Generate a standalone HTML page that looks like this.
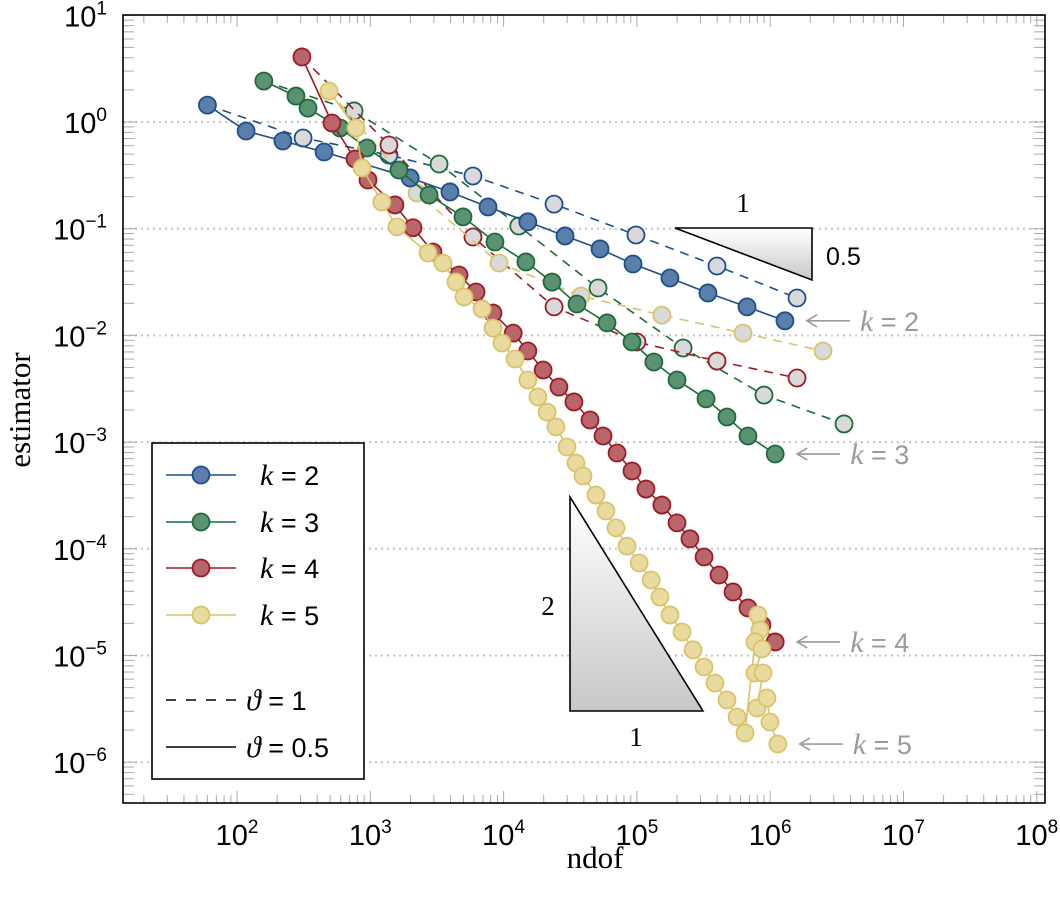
<!DOCTYPE html>
<html><head><meta charset="utf-8">
<style>
body{margin:0;background:#fff;}
svg{display:block;font-family:"Liberation Serif","DejaVu Serif",serif;}
.sans{font-family:"Liberation Sans","DejaVu Sans",sans-serif;}
</style></head>
<body>
<svg id="chart" width="1060" height="898" viewBox="0 0 1060 898" xmlns="http://www.w3.org/2000/svg">
<defs>
<linearGradient id="tg" x1="0" y1="0" x2="0" y2="1"><stop offset="0" stop-color="#ffffff"/><stop offset="1" stop-color="#c8c8c8"/></linearGradient>
</defs>
<g id="grid"></g>
<g id="ticks"></g>
<g id="series"></g>
<rect x="123" y="15" width="922" height="788" fill="none" stroke="#000" stroke-width="1.6"/>
<g id="labels" font-size="29" class="sans"></g>
<text x="595" y="868" font-size="31" text-anchor="middle">ndof</text>
<text transform="translate(30,410) rotate(-90)" font-size="31" text-anchor="middle">estimator</text>
<g>
<polygon points="675,228 812,228 812,280" fill="url(#tg)" stroke="#000" stroke-width="1.6"/>
<text x="743" y="212" font-size="27" text-anchor="middle">1</text>
<text x="826" y="265" font-size="25" class="sans">0.5</text>
</g>
<g>
<polygon points="570,497 570,711 703,711" fill="url(#tg)" stroke="#000" stroke-width="1.6"/>
<text x="548" y="615" font-size="27" text-anchor="middle">2</text>
<text x="636" y="746" font-size="27" text-anchor="middle">1</text>
</g>
<g id="annot" fill="#9a9a9a" font-size="27" class="sans"></g>
<g>
<rect x="152" y="443" width="212" height="336" fill="#fff" stroke="#000" stroke-width="1.6"/>
<g id="legend-items" class="sans"></g>
</g>
</svg>
<script>
const ns="http://www.w3.org/2000/svg";
// ---- data ----
const k2SolidNdof=[60,117,221,450,1990,3960,7640,15200,28900,52900,93500,177000,341000,670000,1290000];
const k2SolidEst=[1.44,0.823,0.664,0.523,0.299,0.221,0.160,0.116,0.0855,0.0646,0.0467,0.0345,0.0250,0.0185,0.0137];
const k2DashNdof=[60,313,1380,5890,23900,98400,399000,1590000];
const k2DashEst=[1.44,0.708,0.491,0.312,0.170,0.0873,0.0447,0.0224];
const k3SolidNdof=[159,277,341,593,944,1640,2760,4960,8610,14700,23100,35500,59700,91900,134000,200000,330000,474000,681000,1090000];
const k3SolidEst=[2.42,1.75,1.35,0.878,0.571,0.355,0.207,0.129,0.0750,0.0488,0.0316,0.0197,0.0131,0.00867,0.00563,0.00382,0.00254,0.00172,0.00114,0.000773];
const k3DashNdof=[159,755,3280,13000,51100,222000,898000,3580000];
const k3DashEst=[2.42,1.27,0.404,0.106,0.0278,0.00762,0.00276,0.00148];
const k4SolidNdof=[307,516,768,961,1530,2090,2950,4630,6210,8320,11800,15200,19800,26000,33700,44500,55700,71000,91900,117000,154000,200000,250000,319000,413000,526000,681000,867000,1090000];
const k4SolidEst=[4.07,0.978,0.450,0.286,0.167,0.102,0.0605,0.0368,0.0255,0.0162,0.0105,0.00714,0.00474,0.00328,0.00238,0.00161,0.00114,0.000790,0.000536,0.000363,0.000257,0.000175,0.000124,8.38e-5,5.68e-5,3.94e-5,2.79e-5,1.93e-5,1.34e-5];
const k4DashNdof=[307,1380,5890,23900,100000,399000,1590000];
const k4DashEst=[4.07,0.609,0.0836,0.0185,0.00867,0.00575,0.00399];
const k5SolidNdof=[490,781,867,1220,1585,2710,3510,4390,5050,6890,8320,9720,12200,15200,18100,21200,24700,29900,34900,39400,49300,58600,69700,84300,104000,128000,149000,177000,218000,264000,319000,385000,474000,564000,647000,809000,838000,769000,867000,769000,883000,796000,946000,996000,1140000];
const k5SolidEst=[1.95,0.878,0.371,0.178,0.104,0.0592,0.0477,0.0316,0.0229,0.0177,0.0117,0.00849,0.00601,0.00382,0.00265,0.00191,0.00139,0.000900,0.000637,0.000481,0.000319,0.000226,0.000157,0.000106,7.36e-5,5.10e-5,3.53e-5,2.40e-5,1.66e-5,1.13e-5,7.80e-6,5.52e-6,3.83e-6,2.65e-6,1.88e-6,2.40e-5,1.73e-5,1.34e-5,1.15e-5,6.86e-6,6.86e-6,3.22e-6,4.00e-6,2.38e-6,1.48e-6];
const k5DashNdof=[490,2240,9240,38100,154000,625000,2490000];
const k5DashEst=[1.95,0.216,0.0477,0.0234,0.0155,0.0105,0.00714];
const xTickExps=[2,3,4,5,6,7,8];
const yTickExps=[1,0,-1,-2,-3,-4,-5,-6];
const kLabels=["2","3","4","5"];
// ---- axes ----
function X(v){return 237+(Math.log10(v)-2)*133.3;}
function Y(v){return 122-Math.log10(v)*106.7;}
const L=123,R=1045,T=15,B=803;
const grid=document.getElementById('grid'),ticks=document.getElementById('ticks'),labels=document.getElementById('labels');
function mk(tag,attrs,parent){const e=document.createElementNS(ns,tag);for(const k in attrs)e.setAttribute(k,attrs[k]);parent.appendChild(e);return e;}
for(let e=1;e>=-7;e--){
  for(let m=1;m<10;m++){
    const y=Y(m*Math.pow(10,e));
    if(y<T-0.5||y>B+0.5)continue;
    const len=m===1?8:5;
    const t1=mk('line',{x1:L,x2:L+len+6,y1:y,y2:y,stroke:'#aaa','stroke-width':1},ticks);
    
    
    const t2=mk('line',{x1:R,x2:R-len-6,y1:y,y2:y,stroke:'#aaa','stroke-width':1},ticks);
    
    
  }
}
yTickExps.forEach(e=>{
  const y=Y(Math.pow(10,e));
  if(e!==1){
    const g=mk('line',{x1:L,x2:R,y1:y,y2:y,stroke:'#c4c4c4','stroke-width':2,'stroke-dasharray':'2 4'},grid);
    
    
  }
  const t=mk('text',{x:107,y:y+11,'text-anchor':'end'},labels);
  
  
  t.innerHTML='10<tspan dy="-12" font-size="19">'+(e<0?'\u2212'+(-e):e)+'</tspan>';
});
for(let e=1;e<=8;e++){
  for(let m=1;m<10;m++){
    const x=X(m*Math.pow(10,e));
    if(x<L-0.5||x>R+0.5)continue;
    const len=m===1?12:8;
    const t1=mk('line',{x1:x,x2:x,y1:B,y2:B-len,stroke:'#aaa','stroke-width':1},ticks);
    
    
    const t2=mk('line',{x1:x,x2:x,y1:T,y2:T+len,stroke:'#aaa','stroke-width':1},ticks);
    
    
  }
}
xTickExps.forEach(e=>{
  const x=X(Math.pow(10,e));
  const t=mk('text',{x:x,y:845,'text-anchor':'middle'},labels);
  
  
  t.innerHTML='10<tspan dy="-12" font-size="19">'+e+'</tspan>';
});
const colors={2:['#1f4e8c','#5a7fab'],3:['#1d6b3b','#5a9272'],4:['#9b1c24','#b9666b'],5:['#d9c36a','#e9db9f']};
const series=document.getElementById('series');
function draw(k,xs,ys,dashed){
  const [sc,fc]=colors[k];
  const g=mk('g',{},series);
  
  
  const pts=xs.map((v,i)=>X(v).toFixed(1)+','+Y(ys[i]).toFixed(1)).join(' ');
  const pl=mk('polyline',{points:pts,fill:'none',stroke:sc,'stroke-width':1.6},g);
  if(dashed)pl.setAttribute('stroke-dasharray','9 7');
  
  
  xs.forEach((v,i)=>{
    if(dashed&&i===0)return;
    const c=mk('circle',{cx:X(v),cy:Y(ys[i]),r:8.5,fill:dashed?'#d9d9d9':fc,stroke:sc,'stroke-width':1.8},g);
    
    
  });
}
draw(2,k2DashNdof,k2DashEst,true);
draw(3,k3DashNdof,k3DashEst,true);
draw(4,k4DashNdof,k4DashEst,true);
draw(5,k5DashNdof,k5DashEst,true);
draw(2,k2SolidNdof,k2SolidEst,false);
draw(3,k3SolidNdof,k3SolidEst,false);
draw(4,k4SolidNdof,k4SolidEst,false);
draw(5,k5SolidNdof,k5SolidEst,false);
const annot=document.getElementById('annot');
const lastPts=[[k2SolidNdof,k2SolidEst],[k3SolidNdof,k3SolidEst],[k4SolidNdof,k4SolidEst],[k5SolidNdof,k5SolidEst]];
lastPts.forEach((p,i)=>{
  const xs=p[0],ys=p[1];
  const x=X(xs[xs.length-1])+20,y=Y(ys[ys.length-1]);
  const g=mk('g',{},annot);
  
  
  mk('line',{x1:x+45,x2:x+2,y1:y,y2:y,stroke:'#9a9a9a','stroke-width':1.6},g);
  mk('path',{d:`M${x+12},${y-6} L${x+2},${y} L${x+12},${y+6}`,fill:'none',stroke:'#9a9a9a','stroke-width':1.6},g);
  const t=mk('text',{x:x+55,y:y+10},g);
  t.innerHTML='<tspan font-style="italic" font-family="Liberation Serif, serif" font-size="30">k</tspan> = '+kLabels[i];
});
const li=document.getElementById('legend-items');
const ly=[475,522,568,615];
kLabels.forEach((k,i)=>{
  const [sc,fc]=colors[k];
  const g=mk('g',{},li);
  
  
  mk('line',{x1:166,x2:236,y1:ly[i],y2:ly[i],stroke:sc,'stroke-width':1.6},g);
  mk('circle',{cx:201,cy:ly[i],r:8.5,fill:fc,stroke:sc,'stroke-width':1.8},g);
  const t=mk('text',{x:260,y:ly[i]+10,'font-size':27},g);
  t.innerHTML='<tspan font-style="italic" font-family="Liberation Serif, serif" font-size="30">k</tspan> = '+k;
});
[[700,true,'1'],[747,false,'0.5']].forEach(([y,d,v])=>{
  const g=mk('g',{},li);
  
  
  const l=mk('line',{x1:166,x2:236,y1:y,y2:y,stroke:'#000','stroke-width':1.6},g);
  if(d)l.setAttribute('stroke-dasharray','10 10');
  const t=mk('text',{x:246,y:y+10,'font-size':27},g);
  t.innerHTML='<tspan font-style="italic" font-family="Liberation Serif, serif" font-size="30">ϑ</tspan> = '+v;
});
</script>
</body></html>
